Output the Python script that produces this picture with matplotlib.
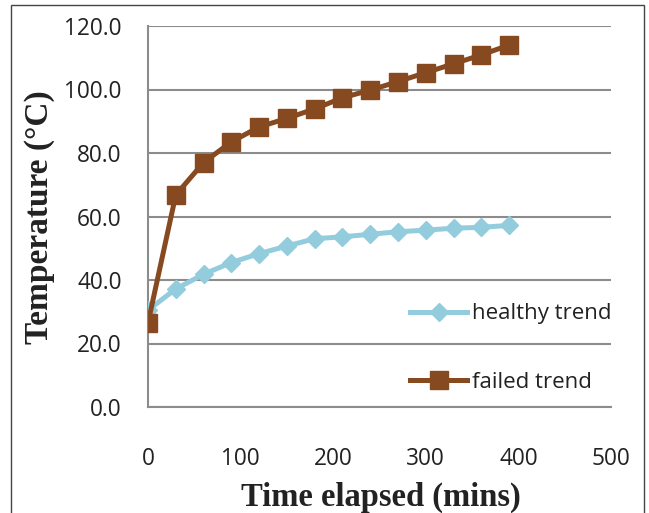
import matplotlib.pyplot as plt
from matplotlib.patches import Rectangle

# Time in minutes and temperatures
time_mins = [0, 30, 60, 90, 120, 150, 180, 210, 240, 270, 300, 330, 360, 390]
healthy_temp = [30.5, 37.2, 41.8, 45.5, 48.3, 50.7, 53.0, 53.6, 54.4, 55.2, 55.7, 56.3, 56.6, 57.2]
failed_temp = [26.5, 66.8, 77.0, 83.5, 88.2, 90.9, 93.9, 97.4, 99.8, 102.5, 105.3, 108.1, 110.9, 114.0]

x_ticks = [0, 100, 200, 300, 400, 500]
y_ticks = [0, 20, 40, 60, 80, 100, 120]

healthy_color = '#93CDDD'
failed_color = '#874A20'
grid_color = '#8C8C8C'
text_color = '#222222'

tick_font = 'Open Sans'
label_font = 'Liberation Serif'

fig = plt.figure(figsize=(6.49, 5.13), dpi=100)
ax = fig.add_axes([148 / 649, 1 - 407 / 513, 463 / 649, 381 / 513])

ax.plot(time_mins, healthy_temp, color=healthy_color, lw=3.6, marker='D',
        ms=9, mec=healthy_color, label='healthy trend', zorder=3)
ax.plot(time_mins, failed_temp, color=failed_color, lw=3.6, marker='s',
        ms=13, mec=failed_color, label='failed trend', zorder=4)

ax.set_xlim(0, 500)
ax.set_ylim(0, 120)
ax.set_xticks(x_ticks)
ax.set_yticks(y_ticks)
ax.set_yticklabels([f'{v:.1f}' for v in y_ticks])

ax.yaxis.grid(True, color=grid_color, lw=1.5)
ax.set_axisbelow(True)
for side in ['top', 'right']:
    ax.spines[side].set_visible(False)
for side in ['left', 'bottom']:
    ax.spines[side].set_color(grid_color)
    ax.spines[side].set_linewidth(1.5)

ax.tick_params(axis='both', length=0, labelsize=16.3, colors=text_color)
ax.tick_params(axis='y', pad=19)
ax.tick_params(axis='x', pad=29)
for lbl in ax.get_xticklabels() + ax.get_yticklabels():
    lbl.set_family(tick_font)

ax.set_xlabel('Time elapsed (mins)', family=label_font, fontweight='bold',
              fontsize=23.5, color=text_color, va='top')
ax.xaxis.set_label_coords(0.504, -0.195)
ax.set_ylabel('Temperature (°C)', family=label_font, fontweight='bold',
              fontsize=24, color=text_color)
ax.yaxis.set_label_coords(-0.20, 0.499)

leg = ax.legend(loc='upper left', bbox_to_anchor=(0.566, 0.272), frameon=False,
                borderpad=0, borderaxespad=0, handlelength=2.57,
                labelspacing=2.15, handletextpad=0.22,
                prop={'family': tick_font, 'size': 16})
for t in leg.get_texts():
    t.set_color(text_color)

# outer border around the chart
fig.patches.append(Rectangle((11 / 649, -0.05), 633 / 649, 1.05 - 5 / 513,
                             transform=fig.transFigure, fill=False,
                             edgecolor='#444444', lw=1.0))

fig.savefig('out.png', dpi=100)
